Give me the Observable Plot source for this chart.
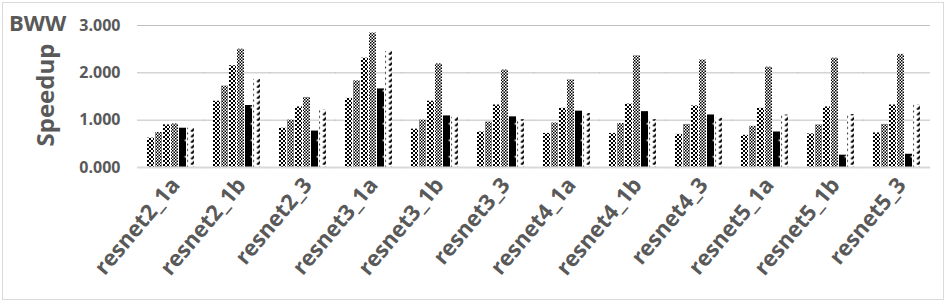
<!DOCTYPE html>
<html><head><meta charset="utf-8">
<script src="https://cdn.jsdelivr.net/npm/d3@7"></script>
<script src="https://cdn.jsdelivr.net/npm/@observablehq/plot@0.6"></script>
<style>
body{margin:0;background:#fff;}
#wrap{position:relative;width:952px;height:302px;overflow:hidden;font-family:"Open Sans",Lato,sans-serif;}
#frame{position:absolute;left:2px;top:2px;width:942px;height:298px;border:1.5px solid #d9d9d9;box-sizing:border-box;pointer-events:none;}
#title{position:absolute;left:9px;top:11px;font-weight:bold;font-size:22px;color:#595959;line-height:1;}
#ylab{position:absolute;left:45px;top:95px;transform:translate(-50%,-50%) rotate(-90deg);font-weight:bold;font-size:24px;color:#595959;white-space:nowrap;line-height:1;}
#chart{position:absolute;left:0;top:0;}
</style></head>
<body>
<div id="wrap">
  <div id="chart"></div>
  <div id="frame"></div>
  <div id="title">BWW</div>
  <div id="ylab">Speedup</div>
</div>
<script>
const categories = ["resnet2_1a","resnet2_1b","resnet2_3","resnet3_1a","resnet3_1b","resnet3_3","resnet4_1a","resnet4_1b","resnet4_3","resnet5_1a","resnet5_1b","resnet5_3"];
const seriesNames = ["S1","S2","S3","S4","S5","S6"];
const s1 = [0.62,1.40,0.83,1.46,0.81,0.75,0.72,0.72,0.70,0.68,0.71,0.73];
const s2 = [0.74,1.72,1.00,1.83,1.00,0.96,0.94,0.93,0.91,0.87,0.90,0.91];
const s3 = [0.90,2.15,1.28,2.31,1.40,1.32,1.25,1.34,1.30,1.25,1.28,1.32];
const s4 = [0.92,2.50,1.48,2.84,2.19,2.06,1.85,2.36,2.27,2.12,2.31,2.39];
const s5 = [0.83,1.31,0.77,1.66,1.09,1.07,1.19,1.18,1.11,0.75,0.26,0.28];
const s6 = [0.83,1.86,1.21,2.45,1.06,1.01,1.14,1.01,1.04,1.11,1.12,1.32];
const yTicks = [0,1,2,3];
const patternUrls = ["url(#p0)","url(#p1)","url(#p2)","url(#p3)","url(#p4)","url(#p5)"];

const seriesValues = [s1,s2,s3,s4,s5,s6];
const data = categories.flatMap((c,i)=>seriesNames.map((s,j)=>({cat:c, series:s, value:seriesValues[j][i]})));

const chart = Plot.plot({
  width: 952, height: 302,
  marginTop: 25, marginBottom: 135, marginLeft: 137, marginRight: 22,
  style: {fontFamily: "'Open Sans', Lato, sans-serif", fontWeight: "bold", color: "#595959", background: "transparent", overflow: "visible"},
  fx: {domain: categories, paddingInner: 0.2, paddingOuter: 0.1, label: null, axis: null},
  x: {domain: seriesNames, padding: 0.1, axis: null},
  y: {domain: [0,3], axis: null},
  color: {domain: seriesNames, range: patternUrls},
  marks: [
    Plot.ruleY(yTicks.filter(d=>d>0), {stroke: "#bfbfbf", strokeWidth: 1, insetLeft: -7, insetRight: -7}),
    Plot.barY(data, {fx: "cat", x: "series", y: "value", fill: "series"}),
    Plot.ruleY([0], {stroke: "#d9d9d9", strokeWidth: 2, insetLeft: -7, insetRight: -7}),
    Plot.axisY({ticks: yTicks, tickFormat: d3.format(".3f"), tickSize: 0, tickPadding: 24, label: null, fontSize: 16, fill: "#595959"}),
    Plot.text(categories, {fx: d => d, text: d => d, frameAnchor: "bottom", rotate: -50, textAnchor: "end", lineAnchor: "top", dy: 8, dx: -2, fontSize: 22, fontWeight: "bold", fill: "#595959"})
  ]
});

const svg = d3.select(chart);
const defs = svg.insert("defs", ":first-child");
function checker(id, cell){
  const p = defs.append("pattern").attr("id", id).attr("patternUnits","userSpaceOnUse").attr("width", cell*2).attr("height", cell*2);
  p.append("rect").attr("width", cell*2).attr("height", cell*2).attr("fill","#fff");
  p.append("rect").attr("width", cell).attr("height", cell).attr("fill","#000");
  p.append("rect").attr("x", cell).attr("y", cell).attr("width", cell).attr("height", cell).attr("fill","#000");
}
checker("p0", 2);
checker("p1", 1.5);
checker("p2", 2);
checker("p3", 1.5);
{
  const p = defs.append("pattern").attr("id","p4").attr("patternUnits","userSpaceOnUse").attr("width", 8.7).attr("height", 16.5);
  p.append("rect").attr("width", 8.7).attr("height", 16.5).attr("fill","#000");
  p.append("rect").attr("x", 3.6).attr("y", 7.5).attr("width", 1.6).attr("height", 1.6).attr("fill","#fff");
}
{
  const p = defs.append("pattern").attr("id","p5").attr("patternUnits","userSpaceOnUse").attr("width", 8.7).attr("height", 5.5);
  p.append("rect").attr("width", 8.7).attr("height", 5.5).attr("fill","#fff");
  p.append("path").attr("d","M1.5,5.2 L6.5,0.8").attr("stroke","#000").attr("stroke-width",2).attr("stroke-linecap","butt");
}
document.getElementById("chart").appendChild(chart);
</script>
</body></html>
